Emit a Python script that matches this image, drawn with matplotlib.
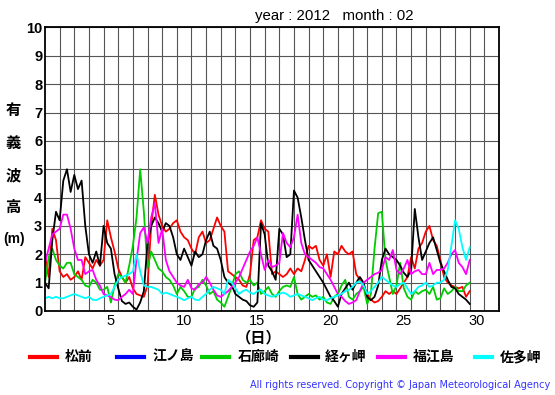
import numpy as np
import matplotlib
matplotlib.use("Agg")
import matplotlib.pyplot as plt
from matplotlib.lines import Line2D

# significant wave height, 4 readings per day (6-hourly), Feb 2012
stations = ["松前", "江ノ島", "石廊崎", "経ヶ岬", "福江島", "佐多岬"]
colors = ["#ff0000", "#0000ff", "#00cc00", "#000000", "#ff00ff", "#00ffff"]

matsumae = [
    2.0, 1.2, 2.9, 2.5,  1.4, 1.2, 1.3, 1.1,  1.2, 1.4, 1.1, 1.9,
    1.7, 1.5, 1.8, 1.6,  1.8, 3.2, 2.6, 2.1,  1.5, 1.2, 1.0, 1.2,
    0.8, 0.6, 0.55, 0.5,  0.9, 3.0, 4.1, 3.4,  3.0, 2.8, 2.9, 3.1,
    3.2, 2.8, 2.6, 2.5,  2.2, 2.0, 2.6, 2.8,  2.4, 2.5, 2.9, 3.3,
    3.0, 2.8, 1.4, 1.3,  1.2, 1.1, 0.9, 0.85,  1.3, 2.5, 2.6, 3.2,
    2.9, 2.8, 1.3, 1.4,  1.3, 1.2, 1.3, 1.5,  1.3, 1.5, 1.4, 1.8,
    2.3, 2.2, 2.3, 1.8,  1.6, 2.0, 1.2, 2.1,  2.0, 2.3, 2.1, 2.0,
    2.1, 1.3, 1.1, 0.9,  0.6, 0.4, 0.3, 0.35,  0.5, 0.7, 0.6, 0.7,
    0.6, 0.8, 1.0, 1.2,  1.9, 1.5, 2.2, 2.4,  2.8, 3.0, 2.5, 2.3,
    1.8, 1.2, 1.0, 0.9,  0.85, 0.8, 0.85, 0.5,  0.7]
enoshima = []
irozaki = [
    1.0, 1.9, 2.2, 1.8,  1.6, 1.5, 1.7, 1.7,  1.3, 1.2, 1.1, 0.9,
    0.85, 1.1, 1.0, 0.75,  0.75, 0.85, 0.3, 0.9,  1.3, 1.2, 1.0, 1.6,
    2.3, 3.3, 5.0, 3.5,  1.5, 2.1, 1.8, 1.5,  1.4, 1.2, 1.1, 0.9,
    0.6, 0.85, 0.7, 0.5,  0.5, 0.8, 0.85, 1.1,  0.9, 0.6, 0.7, 0.4,
    0.3, 0.15, 0.5, 0.85,  1.3, 1.4, 1.1, 1.0,  1.1, 0.9, 1.0, 0.6,
    0.7, 0.85, 0.6, 0.5,  0.7, 0.85, 0.9, 0.85,  1.2, 0.6, 0.4, 0.5,
    0.6, 0.5, 0.55, 0.4,  0.5, 0.3, 0.25, 0.5,  0.6, 0.9, 1.1, 0.5,
    0.4, 0.6, 0.7, 0.85,  0.25, 0.6, 2.2, 3.45,  3.5, 1.8, 1.2, 0.6,
    0.9, 1.7, 0.8, 0.5,  0.4, 0.7, 0.6, 0.7,  0.75, 0.6, 0.85, 0.4,
    0.45, 0.8, 0.6, 0.7,  0.85, 0.7, 0.7, 0.9,  1.0]
kyogamisaki = [
    1.0, 0.8, 2.5, 3.5,  3.2, 4.6, 5.0, 4.2,  4.8, 4.3, 4.6, 3.0,
    2.0, 1.7, 2.1, 1.6,  3.0, 2.4, 2.2, 1.3,  0.8, 0.35, 0.25, 0.3,
    0.15, 0.05, 0.3, 0.7,  2.4, 3.0, 3.3, 3.1,  2.8, 3.1, 3.0, 2.6,
    2.0, 1.8, 2.2, 1.9,  1.6, 2.1, 1.9, 2.0,  2.5, 2.8, 2.3, 2.2,
    1.8, 1.2, 1.0, 0.9,  0.6, 0.5, 0.4, 0.35,  0.2, 0.15, 0.3, 3.1,
    2.7, 1.6, 1.4, 1.1,  2.9, 2.7, 1.9, 2.0,  4.25, 4.0, 3.3, 2.5,
    1.8, 1.6, 1.4, 1.2,  1.0, 0.75, 0.5, 0.35,  0.15, 0.6, 0.8, 1.0,
    0.75, 1.0, 1.2, 1.0,  0.5, 0.38, 0.5, 0.9,  1.8, 2.2, 2.0, 1.9,
    1.8, 1.6, 1.35, 1.2,  1.45, 3.6, 2.6, 1.8,  2.1, 2.4, 2.6, 2.15,
    1.7, 1.4, 1.1, 0.85,  0.8, 0.6, 0.5, 0.4,  0.25]
fukuejima = [
    1.7, 2.2, 2.7, 2.8,  2.9, 3.4, 3.4, 2.9,  2.2, 1.8, 1.8, 1.3,
    1.4, 1.45, 1.1, 0.9,  0.6, 0.55, 0.5, 0.4,  0.38, 0.5, 0.6, 0.75,
    0.6, 1.8, 2.75, 2.95,  2.4, 3.3, 3.8, 2.4,  2.9, 1.8, 1.4, 1.2,
    1.0, 0.9, 0.85, 1.1,  0.8, 0.75, 0.95, 1.0,  1.2, 1.0, 0.75, 0.55,
    0.5, 0.6, 0.7, 0.85,  1.0, 1.2, 1.5, 1.8,  2.1, 2.3, 2.6, 2.0,
    1.45, 1.8, 1.55, 1.6,  1.7, 2.75, 2.4, 2.25,  2.6, 3.4, 2.4, 2.0,
    1.9, 1.8, 1.7, 1.55,  1.5, 1.3, 1.1, 0.85,  0.6, 0.5, 0.35, 0.25,
    0.3, 0.38, 0.7, 1.0,  1.1, 1.2, 1.3, 1.35,  1.45, 1.9, 1.8, 2.15,
    1.45, 1.3, 1.5, 1.8,  1.3, 1.4, 1.45, 1.3,  1.3, 1.7, 1.3, 1.45,
    1.45, 1.5, 1.7, 2.0,  2.15, 1.7, 1.55, 1.3,  1.8]
satamisaki = [
    0.45, 0.5, 0.45, 0.5,  0.45, 0.45, 0.5, 0.55,  0.6, 0.55, 0.5, 0.45,
    0.5, 0.4, 0.38, 0.45,  0.5, 0.55, 0.6, 0.85,  1.1, 1.2, 1.25, 1.3,
    1.4, 2.0, 1.4, 0.9,  0.85, 0.85, 0.8, 0.75,  0.6, 0.65, 0.6, 0.55,
    0.5, 0.45, 0.38, 0.45,  0.5, 0.4, 0.38, 0.5,  0.6, 0.75, 0.85, 0.8,
    0.75, 0.6, 1.1, 1.0,  0.8, 0.6, 0.7, 0.75,  0.65, 0.6, 0.7, 0.75,
    0.6, 0.55, 0.5, 0.55,  0.6, 0.65, 0.6, 0.5,  0.55, 0.6, 0.55, 0.5,
    0.45, 0.38, 0.45, 0.5,  0.4, 0.38, 0.45, 0.5,  0.55, 0.6, 0.7, 0.75,
    0.85, 1.0, 1.05, 0.9,  0.6, 0.7, 0.85, 1.0,  1.2, 1.1, 1.0, 0.9,
    0.85, 0.95, 1.0, 0.8,  0.6, 0.7, 0.85, 0.9,  1.0, 0.85, 0.9, 1.0,
    1.0, 1.1, 1.45, 2.3,  3.2, 2.9, 2.25, 1.8,  2.25]

series = [matsumae, enoshima, irozaki, kyogamisaki, fukuejima, satamisaki]
xtick_days = [5, 10, 15, 20, 25, 30]

fig = plt.figure(figsize=(5.55, 3.95), dpi=100)
ax = fig.add_axes([45/555, 1 - 311/395, 454/555, 283.5/395])

for vals, c in zip(series, colors):
    v = np.array(vals, dtype=float)
    t = np.arange(len(v)) / 4.0
    ax.plot(t, v, color=c, lw=1.3)

ax.set_xlim(0, 31)
ax.set_ylim(0, 10)
ax.set_xticks([d - 0.5 for d in xtick_days])
ax.set_xticklabels([str(d) for d in xtick_days], fontsize=10.5,
                   family="Liberation Sans")
ax.set_xticks(range(1, 31), minor=True)
ax.set_yticks(range(0, 11))
ax.set_yticklabels([str(i) for i in range(11)], fontsize=10.5,
                   fontweight="bold", family="Liberation Sans")
ax.tick_params(which="both", length=0)
ax.tick_params(axis="x", pad=2)
ax.tick_params(axis="y", pad=2)
ax.grid(True, which="minor", axis="x", color="#555555", lw=0.8)
ax.grid(True, which="major", axis="y", color="#555555", lw=0.8)
ax.set_axisbelow(True)
for s in ax.spines.values():
    s.set_linewidth(1.3)

fig.text(334/555, 1 - 16/395, "year : 2012   month : 02", ha="center",
         va="center", fontsize=10.8, family="Liberation Sans")

jp = ["Noto Sans CJK JP", "DejaVu Sans"]
for ch, y in zip(["有", "義", "波", "高"], [110, 143, 175, 207]):
    fig.text(13/555, 1 - y/395, ch, ha="center", va="center", fontsize=11,
             fontweight="bold", family=jp)
fig.text(14/555, 1 - 239/395, "(m)", ha="center", va="center", fontsize=10,
         fontweight="bold", family="Liberation Sans")
fig.text(259/555, 1 - 337/395, "（日）", ha="center", va="center",
         fontsize=11, fontweight="bold", family=jp)

# legend row
leg_x = [30, 117, 202, 291, 378, 475]
leg_len = [27, 27, 27, 27, 27, 17]
leg_tx = [65, 152, 238, 325, 413, 500]
for name, c, x0, ln, tx in zip(stations, colors, leg_x, leg_len, leg_tx):
    fig.add_artist(Line2D([x0/555, (x0 + ln)/555], [1 - 357/395, 1 - 357/395],
                          color=c, lw=3, transform=fig.transFigure))
    fig.text(tx/555, 1 - 357/395, name, ha="left", va="center",
             fontsize=10, fontweight="bold", family=jp)

fig.text(550/555, 1 - 385/395,
         "All rights reserved. Copyright \u00a9 Japan Meteorological Agency",
         ha="right", va="center", fontsize=7, color="#3333ff")

fig.savefig("out.png", dpi=100)
